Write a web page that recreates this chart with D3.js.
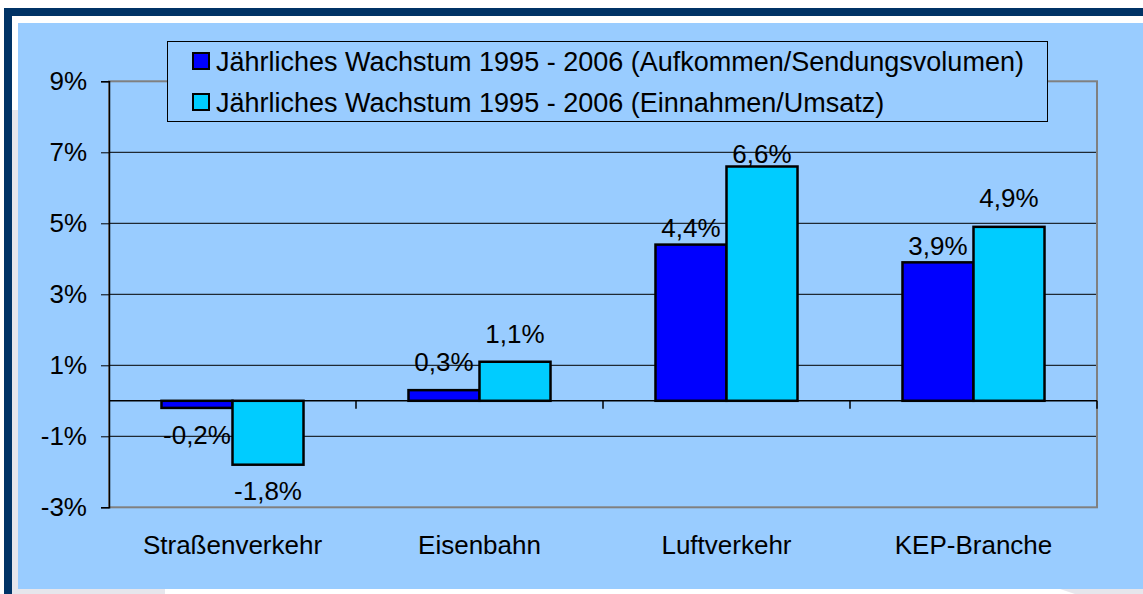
<!DOCTYPE html>
<html>
<head>
<meta charset="utf-8">
<script src="https://cdn.jsdelivr.net/npm/d3@7"></script>
<style>
	body { margin: 0; background: #fff; }
	svg { display: block; font-family: "Liberation Sans", Arial, sans-serif; }
</style>
</head>
<body>
<script>
// Chart data
const categories = ["Straßenverkehr", "Eisenbahn", "Luftverkehr", "KEP-Branche"];
const seriesNames = [
	"Jährliches Wachstum 1995 - 2006 (Aufkommen/Sendungsvolumen)",
	"Jährliches Wachstum 1995 - 2006 (Einnahmen/Umsatz)",
];
const volumeGrowth = [-0.2, 0.3, 4.4, 3.9];
const revenueGrowth = [-1.8, 1.1, 6.6, 4.9];
const yTicks = [-3, -1, 1, 3, 5, 7, 9];

// label nudges (baseline offset from bar end), volume then revenue
const labelDyVolume = [36, -19, -8, -7];
const labelDyRevenue = [35, -19, -4, -20];

const w = 1143;
const h = 594;
const colors = ["#0000ff", "#00ccff"];
const fontSize = 26;

const svg = d3.select("body").append("svg").attr("width", w).attr("height", h);

// slide frame
svg.append("rect").attr("x", 0).attr("y", 0).attr("width", w).attr("height", h).attr("fill", "#ffffff");
svg.append("polygon")
	.attr("points", "1060,589 1143,589 1143,594 1075,594")
	.attr("fill", "#e6e6ec");
svg.append("rect").attr("x", 12).attr("y", 110).attr("width", 6).attr("height", 484).attr("fill", "#e6e6ec");
svg.append("rect").attr("x", 12).attr("y", 589).attr("width", 153).attr("height", 5).attr("fill", "#e6e6ec");
svg.append("rect").attr("x", 4).attr("y", 8).attr("width", w - 4).attr("height", 8).attr("fill", "#003366");
svg.append("rect").attr("x", 4).attr("y", 8).attr("width", 8).attr("height", h - 8).attr("fill", "#003366");
svg.append("rect").attr("x", 18).attr("y", 23).attr("width", w - 18).attr("height", 566).attr("fill", "#99ccff");

// plot area
const plotLeft = 109, plotRight = 1097, plotTop = 81.3, plotBottom = 507.3;

const x0 = d3.scaleBand().domain(categories).range([plotLeft, plotRight]).padding(0);
const groupW = x0.bandwidth() * 0.575;
const x1 = d3.scaleBand().domain([0, 1]).range([0, groupW]).padding(0);
const y = d3.scaleLinear().domain([-3, 9]).range([plotBottom, plotTop]);

// gridlines
svg.append("g")
	.selectAll("line")
	.data(yTicks.filter((t) => t !== 9 && t !== -3))
	.enter()
	.append("line")
	.attr("x1", plotLeft)
	.attr("x2", plotRight)
	.attr("y1", (d) => y(d))
	.attr("y2", (d) => y(d))
	.attr("stroke", "#000")
	.attr("stroke-width", 1);

// plot border
svg.append("rect")
	.attr("x", plotLeft)
	.attr("y", plotTop)
	.attr("width", plotRight - plotLeft)
	.attr("height", plotBottom - plotTop)
	.attr("fill", "none")
	.attr("stroke", "#808080")
	.attr("stroke-width", 2);

// bars
const groups = svg.append("g")
	.selectAll("g")
	.data(categories)
	.enter()
	.append("g")
	.attr("transform", (d) => `translate(${x0(d) + (x0.bandwidth() - groupW) / 2},0)`);

const barData = (d, i) => [
	{ s: 0, v: volumeGrowth[i], dy: labelDyVolume[i] },
	{ s: 1, v: revenueGrowth[i], dy: labelDyRevenue[i] },
];

groups.selectAll("rect")
	.data(barData)
	.enter()
	.append("rect")
	.attr("x", (d) => x1(d.s))
	.attr("y", (d) => y(Math.max(0, d.v)))
	.attr("width", x1.bandwidth())
	.attr("height", (d) => Math.abs(y(d.v) - y(0)))
	.attr("fill", (d) => colors[d.s])
	.attr("stroke", "#000")
	.attr("stroke-width", 2.5);

groups.selectAll("text")
	.data(barData)
	.enter()
	.append("text")
	.attr("x", (d) => x1(d.s) + x1.bandwidth() / 2)
	.attr("y", (d) => y(d.v) + d.dy)
	.attr("text-anchor", "middle")
	.attr("font-size", fontSize)
	.attr("fill", "#000")
	.text((d) => d.v.toFixed(1).replace(".", ",") + "%");

// y axis
const yAxis = d3.axisLeft(y).tickValues(yTicks).tickSize(8).tickPadding(14).tickFormat((d) => d + "%");
const yg = svg.append("g").attr("transform", `translate(${plotLeft},0)`).call(yAxis);
yg.select(".domain").attr("stroke", "#000").attr("stroke-width", 1.5);
yg.selectAll(".tick line").attr("stroke", "#000");
yg.selectAll(".tick text").attr("font-size", fontSize).attr("font-family", "Liberation Sans, Arial, sans-serif").attr("fill", "#000");

// zero axis with category ticks
svg.append("line")
	.attr("x1", plotLeft)
	.attr("x2", plotRight)
	.attr("y1", y(0))
	.attr("y2", y(0))
	.attr("stroke", "#000")
	.attr("stroke-width", 1.5);
svg.append("g")
	.selectAll("line")
	.data(categories)
	.enter()
	.append("line")
	.attr("x1", (d) => x0(d) + x0.bandwidth())
	.attr("x2", (d) => x0(d) + x0.bandwidth())
	.attr("y1", y(0))
	.attr("y2", y(0) + 8)
	.attr("stroke", "#000")
	.attr("stroke-width", 1.5);

// category labels
svg.append("g")
	.selectAll("text")
	.data(categories)
	.enter()
	.append("text")
	.attr("x", (d) => x0(d) + x0.bandwidth() / 2)
	.attr("y", 554)
	.attr("text-anchor", "middle")
	.attr("font-size", fontSize)
	.text((d) => d);

// legend
const legend = svg.append("g");
legend.append("rect")
	.attr("x", 167.5)
	.attr("y", 41.5)
	.attr("width", 880)
	.attr("height", 80)
	.attr("fill", "#99ccff")
	.attr("stroke", "#000")
	.attr("stroke-width", 1);

seriesNames.forEach((name, i) => {
	const rowY = 52 + i * 41;
	legend.append("rect")
		.attr("x", 193)
		.attr("y", rowY + 1)
		.attr("width", 16)
		.attr("height", 16)
		.attr("fill", colors[i])
		.attr("stroke", "#000")
		.attr("stroke-width", 2);
	legend.append("text")
		.attr("x", 216)
		.attr("y", rowY + 19)
		.attr("font-size", 27)
		.text(name);
});
</script>
</body>
</html>
